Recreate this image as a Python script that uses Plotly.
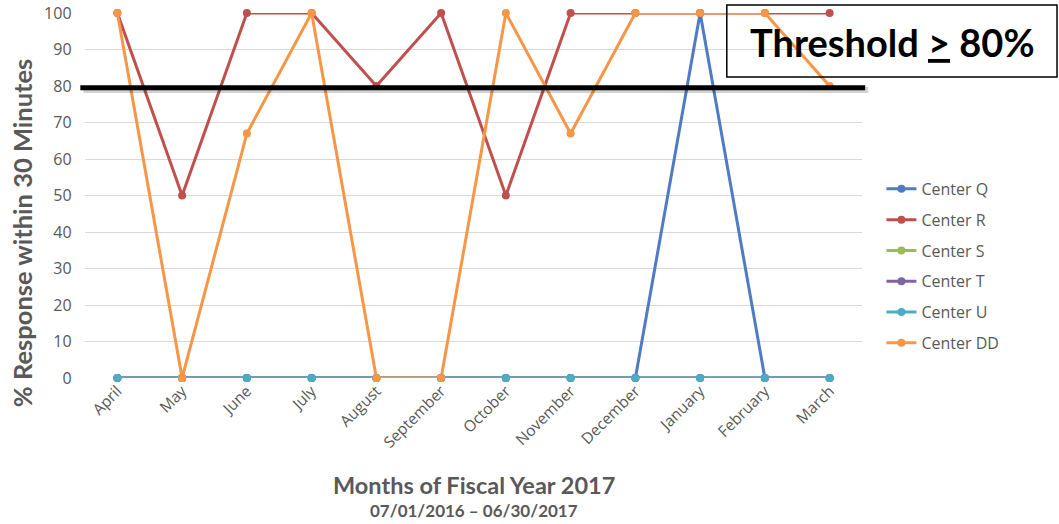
import plotly.graph_objects as go

months = ["April", "May", "June", "July", "August", "September", "October",
          "November", "December", "January", "February", "March"]
center_q = [0, 0, 0, 0, 0, 0, 0, 0, 0, 100, 0, 0]
center_r = [100, 50, 100, 100, 80, 100, 50, 100, 100, 100, 100, 100]
center_s = [0, 0, 0, 0, 0, 0, 0, 0, 0, 0, 0, 0]
center_t = [0, 0, 0, 0, 0, 0, 0, 0, 0, 0, 0, 0]
center_u = [0, 0, 0, 0, 0, 0, 0, 0, 0, 0, 0, 0]
center_dd = [100, 0, 67, 100, 0, 0, 100, 67, 100, 100, 100, 80]
threshold = 79.5

series = [
    ("Center Q", center_q, "#4F7BC2"),
    ("Center R", center_r, "#C0504D"),
    ("Center S", center_s, "#9BBB59"),
    ("Center T", center_t, "#8064A2"),
    ("Center U", center_u, "#4BACC6"),
    ("Center DD", center_dd, "#F79646"),
]

grey = "#595959"
fig = go.Figure()
for name, vals, col in series:
    fig.add_trace(go.Scatter(
        x=months, y=vals, name=name, mode="lines+markers",
        line=dict(color=col, width=3),
        marker=dict(color=col, size=8),
        legendgroup=name, cliponaxis=False,
    ))

# Threshold line with a soft shadow
fig.add_shape(type="line", xref="paper", yref="y", x0=-0.002, x1=1.008,
              y0=threshold - 0.6, y1=threshold - 0.6,
              line=dict(color="rgba(0,0,0,0.18)", width=6))
fig.add_shape(type="line", xref="paper", yref="y", x0=-0.006, x1=1.004,
              y0=threshold, y1=threshold, line=dict(color="black", width=5))

# Threshold box
fig.add_shape(type="rect", xref="paper", yref="paper",
              x0=0.826, x1=1.251, y0=0.825, y1=1.022,
              line=dict(color="black", width=1.5), fillcolor="rgba(0,0,0,0)")
fig.add_annotation(xref="paper", yref="paper", x=1.039, y=0.921,
                   text="<b>Threshold <u>&gt;</u> 80%</b>", showarrow=False,
                   font=dict(family="Lato", size=38, color="black"),
                   xanchor="center", yanchor="middle")

# Y axis title
fig.add_annotation(xref="paper", yref="paper", x=-0.081, y=0.397,
                   text="<b>% Response within 30 Minutes</b>", showarrow=False,
                   textangle=-90,
                   font=dict(family="Lato", size=25.5, color=grey),
                   xanchor="center", yanchor="middle")

# X axis titles
fig.add_annotation(xref="paper", yref="paper", x=0.5, y=-0.293,
                   text="<b>Months of Fiscal Year 2017</b>", showarrow=False,
                   font=dict(family="Lato", size=23.5, color=grey),
                   xanchor="center", yanchor="middle")
fig.add_annotation(xref="paper", yref="paper", x=0.5, y=-0.362,
                   text="<b>07/01/2016 – 06/30/2017</b>", showarrow=False,
                   font=dict(family="Lato", size=17, color=grey),
                   xanchor="center", yanchor="middle")

fig.update_layout(
    width=1059, height=524,
    margin=dict(l=85, r=197, t=13, b=146, autoexpand=False),
    paper_bgcolor="white", plot_bgcolor="white",
    font=dict(family="Open Sans", color=grey),
    xaxis=dict(range=[-0.5, 11.5], tickangle=-45, showgrid=False,
               showline=False, zeroline=False, ticks="", automargin=False,
               tickfont=dict(size=15.5, color=grey)),
    yaxis=dict(range=[0, 100], dtick=10, showgrid=True, gridcolor="#D9D9D9",
               gridwidth=1, zeroline=False, showline=False, ticks="",
               automargin=False,
               tickfont=dict(size=16, color=grey), ticksuffix="   "),
    legend=dict(x=1.025, y=0.307, xanchor="left", yanchor="middle",
                font=dict(size=16, color=grey), tracegroupgap=7,
                traceorder="grouped", itemwidth=30, bgcolor="rgba(0,0,0,0)"),
    showlegend=True,
)

fig.write_html("out.html", config={"displayModeBar": False},
               post_script="document.body.style.margin='0';"
                           "document.body.style.padding='0';")
